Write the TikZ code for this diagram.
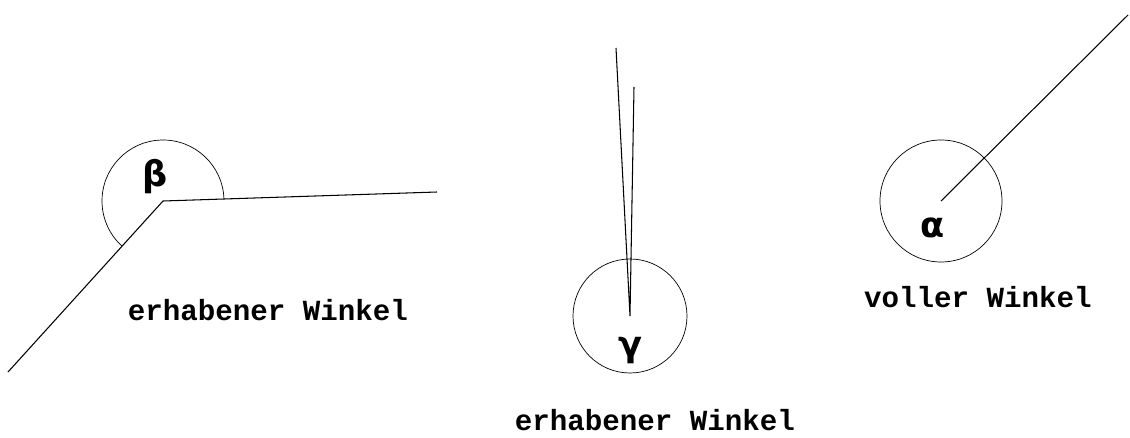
\documentclass[tikz,border=0pt]{standalone}
\usepackage{fontspec}
\setmonofont{Liberation Mono}
\newfontfamily\griech{DejaVu Sans}
\tikzset{
	winkeltext/.style={font=\fontsize{16.6}{18}\selectfont\ttfamily\bfseries},
	buchstabe/.style={font=\fontsize{20}{22}\selectfont\griech\bfseries},
	schenkel/.style={line width=0.6pt}
}
\begin{document}
\begin{tikzpicture}[x=0.02cm, y=0.02cm]
	\useasboundingbox (0,0) rectangle (1130,437);
	%erhabener Winkel links
	\coordinate (B) at (163,236);
	\coordinate (B1) at (437,245);
	\coordinate (B2) at (8,65);
	\draw[schenkel] (B1) -- (B) -- (B2);
	\draw ([shift={(1.9:61)}]B) arc[start angle=1.9, end angle=227.8, radius=61];
	\node[buchstabe] (beta) at (155,260) {β};
	\node[winkeltext] (textB) at (268,127) {erhabener Winkel};
	%erhabener Winkel Mitte
	\coordinate (G) at (630,121);
	\coordinate (G1) at (616,389);
	\coordinate (G2) at (634,350);
	\draw[schenkel] (G1) -- (G) -- (G2);
	\draw (G) circle[radius=57];
	\node[buchstabe] (gamma) at (630,86) {γ};
	\node[winkeltext] (textG) at (655,17) {erhabener Winkel};
	%voller Winkel rechts
	\coordinate (A) at (941,236);
	\coordinate (A1) at (1128,422);
	\draw[schenkel] (A) -- (A1);
	\draw (A) circle[radius=61];
	\node[buchstabe] (alpha) at (933,209) {α};
	\node[winkeltext] (textA) at (978,140) {voller Winkel};
\end{tikzpicture}
\end{document}
